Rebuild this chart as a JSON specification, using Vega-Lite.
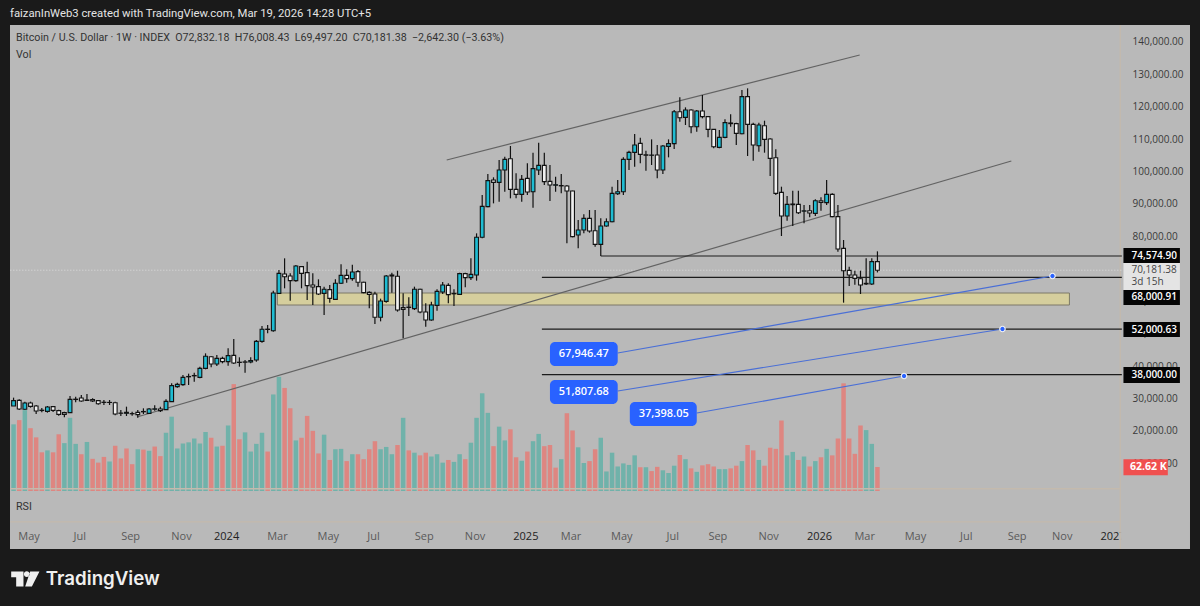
{
  "$schema": "https://vega.github.io/schema/vega-lite/v6.json",
  "width": 1180,
  "height": 524,
  "autosize": "none",
  "padding": {"left": 10, "top": 25, "right": 10, "bottom": 57},
  "background": "#1a1a1a",
  "view": {"fill": "#b9b9b9", "stroke": null},
  "title": {
    "text": "faizanInWeb3 created with TradingView.com, Mar 19, 2026 14:28 UTC+5",
    "anchor": "start",
    "frame": "group",
    "offset": 5,
    "color": "#e4e4e4",
    "font": "Roboto",
    "fontSize": 11.3,
    "fontWeight": "normal"
  },
  "datasets": {
    "candles": [
      {"t":"2023-04-10","o":28300,"h":30870,"l":28300,"c":29940,"v":174,"vd":"u"},
      {"t":"2023-04-17","o":30040,"h":30350,"l":27060,"c":27370,"v":185,"vd":"d"},
      {"t":"2023-04-24","o":27270,"h":29630,"l":27060,"c":29220,"v":211,"vd":"u"},
      {"t":"2023-05-01","o":29220,"h":29630,"l":27780,"c":28190,"v":164,"vd":"d"},
      {"t":"2023-05-08","o":28300,"h":28600,"l":25830,"c":26750,"v":140,"vd":"d"},
      {"t":"2023-05-15","o":26900,"h":27680,"l":26340,"c":27000,"v":101,"vd":"d"},
      {"t":"2023-05-22","o":26650,"h":28300,"l":26240,"c":27990,"v":106,"vd":"u"},
      {"t":"2023-05-29","o":28090,"h":28300,"l":26450,"c":26960,"v":101,"vd":"d"},
      {"t":"2023-06-05","o":26860,"h":27170,"l":25310,"c":25720,"v":148,"vd":"d"},
      {"t":"2023-06-12","o":26240,"h":26550,"l":24800,"c":25720,"v":125,"vd":"u"},
      {"t":"2023-06-19","o":26240,"h":31380,"l":26240,"c":30350,"v":191,"vd":"u"},
      {"t":"2023-06-26","o":30300,"h":31170,"l":29430,"c":30400,"v":123,"vd":"u"},
      {"t":"2023-07-03","o":30760,"h":31690,"l":29630,"c":29840,"v":96,"vd":"d"},
      {"t":"2023-07-10","o":30150,"h":32000,"l":29940,"c":30000,"v":128,"vd":"u"},
      {"t":"2023-07-17","o":30250,"h":30660,"l":29530,"c":29840,"v":84,"vd":"d"},
      {"t":"2023-07-24","o":29940,"h":30150,"l":28700,"c":29010,"v":74,"vd":"d"},
      {"t":"2023-07-31","o":29400,"h":30150,"l":28600,"c":29450,"v":89,"vd":"d"},
      {"t":"2023-08-07","o":29400,"h":30150,"l":28600,"c":29380,"v":77,"vd":"u"},
      {"t":"2023-08-14","o":29320,"h":29630,"l":25420,"c":25830,"v":118,"vd":"d"},
      {"t":"2023-08-21","o":26100,"h":27060,"l":25210,"c":26050,"v":85,"vd":"d"},
      {"t":"2023-08-28","o":26050,"h":28090,"l":25210,"c":26350,"v":111,"vd":"d"},
      {"t":"2023-09-04","o":25950,"h":26550,"l":25310,"c":25900,"v":70,"vd":"d"},
      {"t":"2023-09-11","o":26340,"h":27060,"l":24700,"c":25620,"v":109,"vd":"u"},
      {"t":"2023-09-18","o":26500,"h":27580,"l":25830,"c":26600,"v":108,"vd":"d"},
      {"t":"2023-09-25","o":26030,"h":27680,"l":25830,"c":27370,"v":105,"vd":"u"},
      {"t":"2023-10-02","o":27300,"h":28500,"l":26860,"c":27420,"v":116,"vd":"d"},
      {"t":"2023-10-09","o":27370,"h":28090,"l":26450,"c":26860,"v":91,"vd":"d"},
      {"t":"2023-10-16","o":27170,"h":30350,"l":27060,"c":29730,"v":152,"vd":"u"},
      {"t":"2023-10-23","o":29630,"h":35290,"l":29530,"c":34570,"v":194,"vd":"u"},
      {"t":"2023-10-30","o":34260,"h":35490,"l":33950,"c":34980,"v":111,"vd":"u"},
      {"t":"2023-11-06","o":34880,"h":37860,"l":34570,"c":37140,"v":124,"vd":"u"},
      {"t":"2023-11-13","o":37300,"h":38270,"l":34780,"c":37400,"v":127,"vd":"u"},
      {"t":"2023-11-20","o":37600,"h":38580,"l":35800,"c":37700,"v":137,"vd":"u"},
      {"t":"2023-11-27","o":37140,"h":40430,"l":36830,"c":39910,"v":124,"vd":"u"},
      {"t":"2023-12-04","o":39910,"h":44540,"l":39610,"c":43620,"v":154,"vd":"u"},
      {"t":"2023-12-11","o":43510,"h":43720,"l":40220,"c":41250,"v":139,"vd":"d"},
      {"t":"2023-12-18","o":41250,"h":44030,"l":40630,"c":43000,"v":116,"vd":"u"},
      {"t":"2023-12-25","o":43000,"h":43510,"l":41460,"c":41970,"v":118,"vd":"d"},
      {"t":"2024-01-01","o":41970,"h":46090,"l":40740,"c":43820,"v":171,"vd":"u"},
      {"t":"2024-01-08","o":43920,"h":48970,"l":41250,"c":41560,"v":279,"vd":"d"},
      {"t":"2024-01-15","o":41800,"h":43310,"l":40430,"c":41720,"v":135,"vd":"d"},
      {"t":"2024-01-22","o":41900,"h":42490,"l":38580,"c":41800,"v":153,"vd":"u"},
      {"t":"2024-01-29","o":41870,"h":43310,"l":41460,"c":42280,"v":103,"vd":"u"},
      {"t":"2024-02-05","o":42490,"h":48650,"l":41970,"c":48240,"v":123,"vd":"u"},
      {"t":"2024-02-12","o":48240,"h":52980,"l":47830,"c":51950,"v":152,"vd":"u"},
      {"t":"2024-02-19","o":51900,"h":53280,"l":50700,"c":52000,"v":103,"vd":"d"},
      {"t":"2024-02-26","o":51530,"h":63870,"l":51220,"c":63150,"v":252,"vd":"u"},
      {"t":"2024-03-04","o":63050,"h":70250,"l":63050,"c":69220,"v":298,"vd":"u"},
      {"t":"2024-03-11","o":69020,"h":73850,"l":64600,"c":68190,"v":269,"vd":"d"},
      {"t":"2024-03-18","o":68400,"h":69220,"l":60790,"c":66960,"v":216,"vd":"d"},
      {"t":"2024-03-25","o":66960,"h":71790,"l":66650,"c":71480,"v":132,"vd":"u"},
      {"t":"2024-04-01","o":71280,"h":71480,"l":64600,"c":69220,"v":139,"vd":"d"},
      {"t":"2024-04-08","o":69430,"h":72820,"l":61000,"c":65420,"v":196,"vd":"d"},
      {"t":"2024-04-15","o":65620,"h":69220,"l":59450,"c":65000,"v":157,"vd":"d"},
      {"t":"2024-04-22","o":65110,"h":67370,"l":62540,"c":62850,"v":98,"vd":"d"},
      {"t":"2024-04-29","o":63050,"h":65110,"l":56370,"c":64290,"v":147,"vd":"u"},
      {"t":"2024-05-06","o":64180,"h":65620,"l":60170,"c":61510,"v":81,"vd":"d"},
      {"t":"2024-05-13","o":61200,"h":67370,"l":61000,"c":66140,"v":109,"vd":"u"},
      {"t":"2024-05-20","o":66140,"h":72000,"l":65930,"c":68600,"v":110,"vd":"u"},
      {"t":"2024-05-27","o":68600,"h":70460,"l":66340,"c":67580,"v":78,"vd":"d"},
      {"t":"2024-06-03","o":67580,"h":71900,"l":66960,"c":69630,"v":96,"vd":"u"},
      {"t":"2024-06-10","o":69740,"h":70250,"l":65110,"c":66450,"v":96,"vd":"d"},
      {"t":"2024-06-17","o":66450,"h":66650,"l":63050,"c":63260,"v":83,"vd":"d"},
      {"t":"2024-06-24","o":63360,"h":63670,"l":58420,"c":62740,"v":109,"vd":"d"},
      {"t":"2024-07-01","o":62850,"h":63560,"l":53590,"c":55650,"v":130,"vd":"d"},
      {"t":"2024-07-08","o":55650,"h":61410,"l":54410,"c":60690,"v":109,"vd":"u"},
      {"t":"2024-07-15","o":60580,"h":68710,"l":60170,"c":68400,"v":115,"vd":"u"},
      {"t":"2024-07-22","o":68400,"h":69430,"l":63260,"c":68700,"v":96,"vd":"u"},
      {"t":"2024-07-29","o":68300,"h":70040,"l":57400,"c":57910,"v":120,"vd":"d"},
      {"t":"2024-08-05","o":58630,"h":63050,"l":49170,"c":58110,"v":191,"vd":"u"},
      {"t":"2024-08-12","o":58700,"h":61820,"l":56060,"c":58800,"v":106,"vd":"d"},
      {"t":"2024-08-19","o":58320,"h":65110,"l":57910,"c":64290,"v":100,"vd":"u"},
      {"t":"2024-08-26","o":64290,"h":64490,"l":56880,"c":57290,"v":93,"vd":"d"},
      {"t":"2024-09-02","o":57290,"h":59970,"l":52770,"c":54820,"v":100,"vd":"d"},
      {"t":"2024-09-09","o":54820,"h":60480,"l":54620,"c":59450,"v":90,"vd":"u"},
      {"t":"2024-09-16","o":59350,"h":64290,"l":57700,"c":63670,"v":96,"vd":"u"},
      {"t":"2024-09-23","o":63460,"h":66550,"l":62850,"c":65620,"v":74,"vd":"u"},
      {"t":"2024-09-30","o":65520,"h":66140,"l":59970,"c":62640,"v":81,"vd":"d"},
      {"t":"2024-10-07","o":62900,"h":64290,"l":59140,"c":63000,"v":76,"vd":"u"},
      {"t":"2024-10-14","o":62740,"h":69430,"l":62540,"c":69120,"v":96,"vd":"u"},
      {"t":"2024-10-21","o":69120,"h":69430,"l":64900,"c":67890,"v":83,"vd":"d"},
      {"t":"2024-10-28","o":67890,"h":73850,"l":67160,"c":68910,"v":126,"vd":"u"},
      {"t":"2024-11-04","o":68710,"h":81560,"l":66960,"c":80330,"v":191,"vd":"u"},
      {"t":"2024-11-11","o":80330,"h":93390,"l":80020,"c":89890,"v":255,"vd":"u"},
      {"t":"2024-11-18","o":89790,"h":99860,"l":89580,"c":97810,"v":204,"vd":"u"},
      {"t":"2024-11-25","o":98010,"h":98840,"l":90810,"c":97290,"v":117,"vd":"d"},
      {"t":"2024-12-02","o":97290,"h":104180,"l":91330,"c":101100,"v":168,"vd":"u"},
      {"t":"2024-12-09","o":101100,"h":105210,"l":94410,"c":104390,"v":132,"vd":"u"},
      {"t":"2024-12-16","o":104590,"h":108500,"l":92360,"c":95130,"v":161,"vd":"d"},
      {"t":"2024-12-23","o":95130,"h":100070,"l":92360,"c":93590,"v":88,"vd":"d"},
      {"t":"2024-12-30","o":93590,"h":99560,"l":91330,"c":98220,"v":79,"vd":"u"},
      {"t":"2025-01-06","o":98530,"h":103150,"l":93390,"c":94310,"v":103,"vd":"d"},
      {"t":"2025-01-13","o":94410,"h":106450,"l":89480,"c":101510,"v":130,"vd":"u"},
      {"t":"2025-01-20","o":101100,"h":109530,"l":99560,"c":102540,"v":149,"vd":"u"},
      {"t":"2025-01-27","o":102540,"h":106450,"l":96470,"c":97500,"v":117,"vd":"d"},
      {"t":"2025-02-03","o":97600,"h":102640,"l":91540,"c":96470,"v":120,"vd":"d"},
      {"t":"2025-02-10","o":96400,"h":99040,"l":94410,"c":96550,"v":61,"vd":"d"},
      {"t":"2025-02-17","o":96300,"h":99860,"l":93900,"c":96200,"v":83,"vd":"u"},
      {"t":"2025-02-24","o":96160,"h":96470,"l":78480,"c":94620,"v":203,"vd":"d"},
      {"t":"2025-03-03","o":94620,"h":94700,"l":80330,"c":80530,"v":158,"vd":"d"},
      {"t":"2025-03-10","o":81040,"h":85670,"l":76930,"c":82580,"v":114,"vd":"u"},
      {"t":"2025-03-17","o":82580,"h":87420,"l":81560,"c":86180,"v":73,"vd":"u"},
      {"t":"2025-03-24","o":86180,"h":88750,"l":81760,"c":82280,"v":78,"vd":"d"},
      {"t":"2025-03-31","o":82380,"h":88750,"l":77440,"c":78160,"v":109,"vd":"d"},
      {"t":"2025-04-07","o":78160,"h":86180,"l":74560,"c":83820,"v":139,"vd":"u"},
      {"t":"2025-04-14","o":83820,"h":86180,"l":83610,"c":85150,"v":51,"vd":"u"},
      {"t":"2025-04-21","o":85150,"h":95950,"l":84950,"c":93900,"v":100,"vd":"u"},
      {"t":"2025-04-28","o":93790,"h":98010,"l":93380,"c":94410,"v":64,"vd":"u"},
      {"t":"2025-05-05","o":94410,"h":105000,"l":93380,"c":104380,"v":72,"vd":"u"},
      {"t":"2025-05-12","o":104380,"h":107060,"l":101090,"c":106540,"v":68,"vd":"u"},
      {"t":"2025-05-19","o":106540,"h":112200,"l":102120,"c":108810,"v":93,"vd":"u"},
      {"t":"2025-05-26","o":109320,"h":111070,"l":103150,"c":105930,"v":62,"vd":"d"},
      {"t":"2025-06-02","o":105800,"h":107060,"l":100890,"c":105650,"v":62,"vd":"u"},
      {"t":"2025-06-09","o":105650,"h":110550,"l":102640,"c":105700,"v":52,"vd":"d"},
      {"t":"2025-06-16","o":105720,"h":108810,"l":98520,"c":101090,"v":63,"vd":"d"},
      {"t":"2025-06-23","o":101090,"h":108810,"l":99860,"c":108500,"v":54,"vd":"u"},
      {"t":"2025-06-30","o":108400,"h":110550,"l":105000,"c":109220,"v":47,"vd":"u"},
      {"t":"2025-07-07","o":109220,"h":119600,"l":107570,"c":119090,"v":66,"vd":"u"},
      {"t":"2025-07-14","o":119090,"h":123510,"l":116000,"c":117240,"v":94,"vd":"d"},
      {"t":"2025-07-21","o":117340,"h":120420,"l":114980,"c":119600,"v":83,"vd":"u"},
      {"t":"2025-07-28","o":119600,"h":119810,"l":112400,"c":114460,"v":59,"vd":"d"},
      {"t":"2025-08-04","o":114460,"h":119600,"l":112920,"c":119290,"v":50,"vd":"u"},
      {"t":"2025-08-11","o":119290,"h":124230,"l":117030,"c":117550,"v":67,"vd":"d"},
      {"t":"2025-08-18","o":117550,"h":117750,"l":111170,"c":113640,"v":70,"vd":"d"},
      {"t":"2025-08-25","o":113640,"h":113740,"l":107780,"c":108290,"v":64,"vd":"d"},
      {"t":"2025-09-01","o":108090,"h":113430,"l":107780,"c":111170,"v":57,"vd":"u"},
      {"t":"2025-09-08","o":111170,"h":116720,"l":110860,"c":115700,"v":57,"vd":"u"},
      {"t":"2025-09-15","o":115600,"h":118270,"l":114460,"c":115400,"v":59,"vd":"d"},
      {"t":"2025-09-22","o":115390,"h":115700,"l":108810,"c":112400,"v":66,"vd":"d"},
      {"t":"2025-09-29","o":112300,"h":125770,"l":112100,"c":123720,"v":78,"vd":"u"},
      {"t":"2025-10-06","o":123720,"h":126290,"l":105410,"c":115180,"v":120,"vd":"d"},
      {"t":"2025-10-13","o":115180,"h":115700,"l":103970,"c":108810,"v":106,"vd":"d"},
      {"t":"2025-10-20","o":108600,"h":115700,"l":106750,"c":114980,"v":81,"vd":"u"},
      {"t":"2025-10-27","o":114770,"h":116310,"l":106440,"c":110550,"v":66,"vd":"d"},
      {"t":"2025-11-03","o":110660,"h":110860,"l":99240,"c":104690,"v":113,"vd":"d"},
      {"t":"2025-11-10","o":104900,"h":107470,"l":93380,"c":93900,"v":110,"vd":"d"},
      {"t":"2025-11-17","o":94200,"h":95950,"l":80730,"c":86900,"v":184,"vd":"d"},
      {"t":"2025-11-24","o":86900,"h":93070,"l":85460,"c":90500,"v":93,"vd":"u"},
      {"t":"2025-12-01","o":90400,"h":94720,"l":83820,"c":90600,"v":102,"vd":"u"},
      {"t":"2025-12-08","o":90500,"h":94720,"l":87520,"c":87930,"v":81,"vd":"d"},
      {"t":"2025-12-15","o":88400,"h":90300,"l":84640,"c":88500,"v":90,"vd":"u"},
      {"t":"2025-12-22","o":88550,"h":90300,"l":86490,"c":87830,"v":64,"vd":"d"},
      {"t":"2025-12-29","o":87730,"h":92040,"l":86900,"c":91630,"v":78,"vd":"u"},
      {"t":"2026-01-05","o":91630,"h":92660,"l":88550,"c":91120,"v":88,"vd":"d"},
      {"t":"2026-01-12","o":91020,"h":98010,"l":90300,"c":93590,"v":110,"vd":"u"},
      {"t":"2026-01-19","o":93590,"h":93900,"l":86490,"c":86700,"v":93,"vd":"d"},
      {"t":"2026-01-26","o":86700,"h":90300,"l":75900,"c":76720,"v":137,"vd":"d"},
      {"t":"2026-02-02","o":76930,"h":79500,"l":60170,"c":70040,"v":281,"vd":"d"},
      {"t":"2026-02-09","o":70140,"h":71270,"l":65310,"c":68700,"v":137,"vd":"d"},
      {"t":"2026-02-16","o":68700,"h":70040,"l":65720,"c":67670,"v":97,"vd":"d"},
      {"t":"2026-02-23","o":67570,"h":70040,"l":62840,"c":65620,"v":171,"vd":"d"},
      {"t":"2026-03-02","o":65950,"h":73840,"l":65620,"c":66130,"v":159,"vd":"u"},
      {"t":"2026-03-09","o":65930,"h":73840,"l":65620,"c":72820,"v":123,"vd":"u"},
      {"t":"2026-03-16","o":72832.18,"h":76008.43,"l":69497.2,"c":70181.38,"v":62.62,"vd":"d"}
    ],
    "trend": [
      {"t":"2024-09-28","p":104190,"t2":"2026-02-22","p2":136580},
      {"t":"2023-09-10","p":24900,"t2":"2026-08-29","p2":103880}
    ],
    "levels": [
      {"t":"2025-04-07","p":74574.9,"t2":"2027-01-13","p2":74574.9},
      {"t":"2025-01-24","p":68000.91,"t2":"2027-01-13","p2":68000.91},
      {"t":"2025-01-24","p":52000.63,"t2":"2027-01-13","p2":52000.63},
      {"t":"2025-01-24","p":38000,"t2":"2027-01-13","p2":38000}
    ],
    "callouts": [
      {"t":"2025-04-28","p":44650,"t2":"2026-10-19","p2":68400},
      {"t":"2025-04-28","p":32920,"t2":"2026-08-18","p2":52050},
      {"t":"2025-08-04","p":26130,"t2":"2026-04-18","p2":37550}
    ],
    "calloutBoxes": [
      {"t":"2025-02-03","t2":"2025-04-28","p":48040,"p2":40640},
      {"t":"2025-02-03","t2":"2025-04-28","p":36320,"p2":28910},
      {"t":"2025-05-13","t2":"2025-08-04","p":29530,"p2":22120}
    ],
    "calloutLabels": [
      {"t":"2025-03-17","p":44320,"label":"67,946.47"},
      {"t":"2025-03-17","p":32620,"label":"51,807.68"},
      {"t":"2025-06-24","p":25830,"label":"37,398.05"}
    ],
    "tags": [
      {"t":"2027-01-15","t2":"2027-03-26","p":77040,"p2":72410},
      {"t":"2027-01-15","t2":"2027-03-26","p":64080,"p2":59450},
      {"t":"2027-01-15","t2":"2027-03-26","p":54210,"p2":49580},
      {"t":"2027-01-15","t2":"2027-03-26","p":40330,"p2":35390}
    ],
    "tagLabels": [
      {"t":"2027-01-25","p":74720,"label":"74,574.90"},
      {"t":"2027-01-25","p":61770,"label":"68,000.91"},
      {"t":"2027-01-25","p":51890,"label":"52,000.63"},
      {"t":"2027-01-25","p":37860,"label":"38,000.00"}
    ],
    "notes": [
      {"t":"2023-04-13","p":141820,"text":"Bitcoin / U.S. Dollar · 1W · INDEX\u00a0\u00a0O72,832.18\u00a0\u00a0H76,008.43\u00a0\u00a0L69,497.20\u00a0\u00a0C70,181.38\u00a0\u00a0−2,642.30 (−3.63%)"},
      {"t":"2023-04-13","p":136580,"text":"Vol"},
      {"t":"2023-04-13","p":-2860,"text":"RSI"}
    ]
  },
  "encoding": {
    "x": {
      "field": "t",
      "type": "temporal",
      "scale": {"type": "utc", "nice": false, "padding": 0, "domain": ["2023-04-05T14:00:00Z", "2027-04-07T12:00:00Z"]},
      "axis": {
        "title": null,
        "domain": false,
        "ticks": false,
        "tickSize": 0,
        "grid": false,
        "labelPadding": -19,
        "labelOffset": -2,
        "labelFont": "Open Sans",
        "labelFontSize": 11,
        "labelFlush": false,
        "labelOverlap": false,
        "labelBound": false,
        "labelColor": {"expr": "utcmonth(datum.value) == 0 ? '#222222' : '#5a5a5a'"},
        "labelExpr": "utcmonth(datum.value) == 0 ? utcFormat(datum.value, '%Y') : utcFormat(datum.value, '%b')",
        "values": [
          {"year":2023,"month":5,"date":1,"utc":true},{"year":2023,"month":7,"date":3,"utc":true},
          {"year":2023,"month":9,"date":4,"utc":true},{"year":2023,"month":11,"date":6,"utc":true},
          {"year":2024,"month":1,"date":1,"utc":true},{"year":2024,"month":3,"date":4,"utc":true},
          {"year":2024,"month":5,"date":6,"utc":true},{"year":2024,"month":7,"date":1,"utc":true},
          {"year":2024,"month":9,"date":2,"utc":true},{"year":2024,"month":11,"date":4,"utc":true},
          {"year":2025,"month":1,"date":6,"utc":true},{"year":2025,"month":3,"date":3,"utc":true},
          {"year":2025,"month":5,"date":5,"utc":true},{"year":2025,"month":7,"date":7,"utc":true},
          {"year":2025,"month":9,"date":1,"utc":true},{"year":2025,"month":11,"date":3,"utc":true},
          {"year":2026,"month":1,"date":5,"utc":true},{"year":2026,"month":3,"date":2,"utc":true},
          {"year":2026,"month":5,"date":4,"utc":true},{"year":2026,"month":7,"date":6,"utc":true},
          {"year":2026,"month":9,"date":7,"utc":true},{"year":2026,"month":11,"date":2,"utc":true},
          {"year":2027,"month":1,"date":4,"utc":true}
        ]
      }
    }
  },
  "layer": [
    {
      "data": {"values": [
        {"t":"2027-01-13","tick":10000},{"t":"2027-01-13","tick":20000},{"t":"2027-01-13","tick":30000},
        {"t":"2027-01-13","tick":40000},{"t":"2027-01-13","tick":50000},{"t":"2027-01-13","tick":60000},
        {"t":"2027-01-13","tick":70000},{"t":"2027-01-13","tick":80000},{"t":"2027-01-13","tick":90000},
        {"t":"2027-01-13","tick":100000},{"t":"2027-01-13","tick":110000},{"t":"2027-01-13","tick":120000},
        {"t":"2027-01-13","tick":130000},{"t":"2027-01-13","tick":140000}
      ]},
      "mark": {"type": "point", "opacity": 0},
      "encoding": {
        "y": {
          "field": "tick",
          "type": "quantitative",
          "scale": {"domain": [-15820, 145830], "nice": false, "zero": false},
          "axis": {
            "title": null,
            "orient": "right",
            "domain": false,
            "ticks": false,
            "tickSize": 0,
            "grid": false,
            "format": ",.2f",
            "labelAlign": "left",
            "labelPadding": -58,
            "labelOffset": -2,
            "labelFont": "Open Sans",
            "labelFontSize": 10,
            "labelColor": "#3a3a3a",
            "labelOverlap": false,
            "values": [10000,20000,30000,40000,50000,60000,70000,80000,90000,100000,110000,120000,130000,140000]
          }
        }
      }
    },
    {
      "encoding": {
        "y": {"field": "v", "type": "quantitative", "axis": null, "scale": {"domain": [-151.4, 1216.3], "nice": false, "zero": false}}
      },
      "layer": [
        {
          "data": {"name": "candles"},
          "mark": {"type": "bar", "width": 4.5},
          "encoding": {
            "y2": {"datum": 0},
            "color": {
              "field": "vd",
              "type": "nominal",
              "legend": null,
              "scale": {"domain": ["u", "d"], "range": ["#70b2aa", "#de8681"]}
            }
          }
        },
        {
          "data": {"values": [{"t":"2027-01-15","t2":"2027-03-11","v":82.7,"v2":41}]},
          "mark": {"type": "rect", "color": "#f0504f"},
          "encoding": {"x2": {"field": "t2"}, "y2": {"field": "v2"}}
        },
        {
          "data": {"values": [{"t":"2027-02-15","v":62.62,"label":"62.62 K"}]},
          "mark": {"type": "text", "color": "#ffffff", "font": "Open Sans", "fontSize": 10.5, "fontWeight": 700},
          "encoding": {"text": {"field": "label"}}
        }
      ]
    },
    {
      "encoding": {
        "y": {
          "field": "p",
          "type": "quantitative",
          "axis": null,
          "scale": {"domain": [-15820, 145830], "nice": false, "zero": false}
        }
      },
      "layer": [
        {
          "data": {"values": [
            {"t":"2023-04-06","p":2770,"t2":"2027-01-11","p2":2770},
            {"t":"2023-04-06","p":-7470,"t2":"2027-01-11","p2":-7470},
            {"t":"2027-01-11","p":145830,"t2":"2027-01-11","p2":-15820}
          ]},
          "mark": {"type": "rule", "color": "#c4baad", "strokeWidth": 1.3},
          "encoding": {"x2": {"field": "t2"}, "y2": {"field": "p2"}}
        },
        {
          "data": {"values": [{"t":"2023-04-06","p":70181.38,"t2":"2027-01-13"}]},
          "mark": {"type": "rule", "color": "#dcdcdc", "strokeWidth": 1, "strokeDash": [1, 2]},
          "encoding": {"x2": {"field": "t2"}}
        },
        {
          "data": {"values": [{"t":"2024-03-02","t2":"2026-11-09","p":63150,"p2":59450}]},
          "mark": {"type": "rect", "fill": "#d5ce9d", "stroke": "#7c7968", "strokeWidth": 1},
          "encoding": {"x2": {"field": "t2"}, "y2": {"field": "p2"}}
        },
        {
          "data": {"name": "trend"},
          "mark": {"type": "rule", "color": "#636363", "strokeWidth": 1.2},
          "encoding": {"x2": {"field": "t2"}, "y2": {"field": "p2"}}
        },
        {
          "data": {"name": "levels"},
          "mark": {"type": "rule", "color": "#1c1c1c", "strokeWidth": 1.2},
          "encoding": {"x2": {"field": "t2"}, "y2": {"field": "p2"}}
        },
        {
          "data": {"name": "candles"},
          "mark": {"type": "rule", "color": "#111111", "strokeWidth": 1.2},
          "encoding": {
            "y": {"field": "h", "type": "quantitative", "axis": null, "scale": {"domain": [-15820, 145830], "nice": false, "zero": false}},
            "y2": {"field": "l"}
          }
        },
        {
          "data": {"name": "candles"},
          "mark": {"type": "bar", "width": 3.8, "stroke": "#111111", "strokeWidth": 1.1},
          "encoding": {
            "y": {"field": "o", "type": "quantitative", "axis": null, "scale": {"domain": [-15820, 145830], "nice": false, "zero": false}},
            "y2": {"field": "c"},
            "fill": {"condition": {"test": "datum.c >= datum.o", "value": "#1fbcd2"}, "value": "#f0f0f0"}
          }
        },
        {
          "data": {"name": "callouts"},
          "mark": {"type": "rule", "color": "#4a6fd6", "strokeWidth": 1.2},
          "encoding": {"x2": {"field": "t2"}, "y2": {"field": "p2"}}
        },
        {
          "data": {"values": [
            {"t":"2026-10-19","p":68400},
            {"t":"2026-08-18","p":52050},
            {"t":"2026-04-18","p":37550}
          ]},
          "mark": {"type": "point", "filled": true, "fill": "#2962ff", "stroke": "#f2f2f2", "strokeWidth": 1.2, "size": 30, "opacity": 1}
        },
        {
          "data": {"name": "calloutBoxes"},
          "mark": {"type": "rect", "fill": "#2962ff", "cornerRadius": 5},
          "encoding": {"x2": {"field": "t2"}, "y2": {"field": "p2"}}
        },
        {
          "data": {"name": "calloutLabels"},
          "mark": {"type": "text", "color": "#ffffff", "font": "Open Sans", "fontSize": 11, "fontWeight": 600},
          "encoding": {"text": {"field": "label"}}
        },
        {
          "data": {"values": [{"t":"2027-01-12","t2":"2027-04-07","p":-7470,"p2":-15820}]},
          "mark": {"type": "rect", "fill": "#b9b9b9"},
          "encoding": {"x2": {"field": "t2"}, "y2": {"field": "p2"}}
        },
        {
          "data": {"values": [{"t":"2027-01-15","t2":"2027-03-26","p":72410,"p2":64080}]},
          "mark": {"type": "rect", "fill": "#e4e4e4"},
          "encoding": {"x2": {"field": "t2"}, "y2": {"field": "p2"}}
        },
        {
          "data": {"values": [
            {"t":"2027-01-25","p":70250,"label":"70,181.38"},
            {"t":"2027-01-25","p":66550,"label":"3d 15h"}
          ]},
          "mark": {"type": "text", "align": "left", "color": "#444444", "font": "Open Sans", "fontSize": 10},
          "encoding": {"text": {"field": "label"}}
        },
        {
          "data": {"name": "tags"},
          "mark": {"type": "rect", "fill": "#050505"},
          "encoding": {"x2": {"field": "t2"}, "y2": {"field": "p2"}}
        },
        {
          "data": {"name": "tagLabels"},
          "mark": {"type": "text", "align": "left", "color": "#ffffff", "font": "Open Sans", "fontSize": 10, "fontWeight": 600},
          "encoding": {"text": {"field": "label"}}
        },
        {
          "data": {"name": "notes"},
          "mark": {"type": "text", "align": "left", "color": "#333333", "font": "Roboto", "fontSize": 10.7},
          "encoding": {"text": {"field": "text"}}
        },
        {
          "data": {"values": [{"t":"2023-05-20","p":-25070,"label":"TradingView"}]},
          "mark": {"type": "text", "align": "left", "color": "#efefef", "font": "Inter", "fontSize": 18.7, "fontWeight": 600},
          "encoding": {"text": {"field": "label"}}
        },
        {
          "data": {"values": [{"t":"2023-04-24T14:00:00Z","p":-25070}]},
          "mark": {
            "type": "point",
            "filled": true,
            "fill": "#efefef",
            "stroke": null,
            "opacity": 1,
            "size": 800,
            "shape": "M-1 -.53H-.13V.53H-.647V-.127H-1ZM-.1 -.34A.2 .2 0 1 0 .3 -.34A.2 .2 0 1 0 -.1 -.34ZM.343 -.53H1L.463 .53H-.01Z"
          }
        }
      ]
    }
  ],
  "resolve": {"scale": {"y": "independent"}}
}
